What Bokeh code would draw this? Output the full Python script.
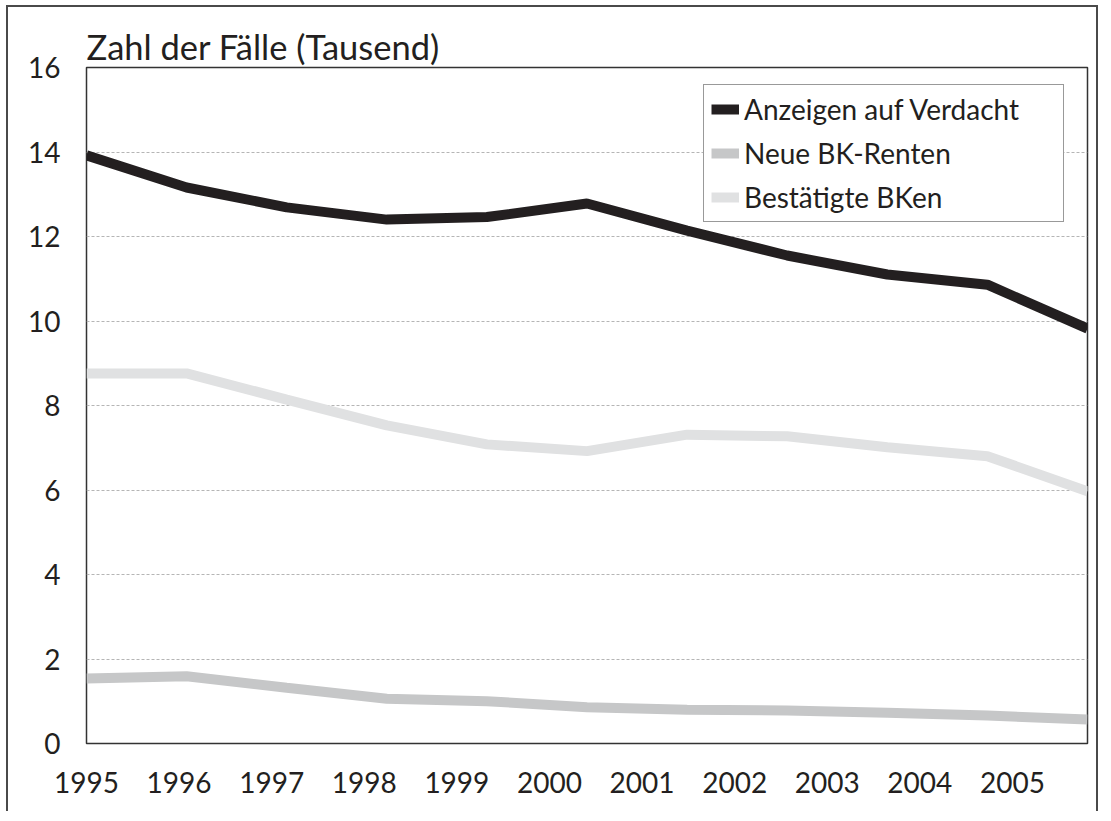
from bokeh.plotting import figure
from bokeh.models import FixedTicker, Range1d, Legend, LegendItem
from bokeh.embed import file_html
from bokeh.resources import INLINE

years = [1995, 1996, 1997, 1998, 1999, 2000, 2001, 2002, 2003, 2004, 2005]
anzeigen = [13.92, 13.16, 12.69, 12.40, 12.46, 12.78, 12.14, 11.55, 11.10, 10.86, 9.82]
renten = [1.54, 1.59, 1.32, 1.06, 1.00, 0.86, 0.80, 0.78, 0.73, 0.66, 0.57]
bestaetigt = [8.76, 8.76, 8.14, 7.53, 7.08, 6.92, 7.31, 7.27, 7.01, 6.80, 5.97]
series_names = ["Anzeigen auf Verdacht", "Neue BK-Renten", "Bestätigte BKen"]
year_labels = [str(y) for y in years]
y_ticks = [0, 2, 4, 6, 8, 10, 12, 14, 16]
title_text = "Zahl der Fälle (Tausend)"

FONT = "Lato"

p = figure(width=1092, height=806, output_backend="svg", toolbar_location=None,
           x_range=Range1d(1995, 2005), y_range=Range1d(0, 16),
           min_border_left=78, min_border_right=13, min_border_top=60, min_border_bottom=70,
           styles={"margin-left": "6px", "margin-top": "5px",
                   "border-left": "2px solid #4a4a4a", "border-top": "2px solid #4a4a4a",
                   "border-right": "2px solid #4a4a4a"})

p.title.text = title_text
p.title.text_font = FONT
p.title.text_font_size = "34.5px"
p.title.text_font_style = "normal"
p.title.text_color = "#231f20"
p.title.align = "left"
p.title.standoff = 2
p.title.offset = 0

p.outline_line_color = "#333333"
p.outline_line_width = 1.5
p.background_fill_color = "white"
p.border_fill_color = "white"

# x axis: labels are spaced slightly tighter than the data years in the original
spacing = 0.925
xt = [1995 + spacing * i for i in range(len(years))]
p.xaxis.ticker = FixedTicker(ticks=xt)
p.xaxis.major_label_overrides = {t: lab for t, lab in zip(xt, year_labels)}
p.yaxis.ticker = FixedTicker(ticks=y_ticks)
for ax in (p.xaxis[0], p.yaxis[0]):
    ax.axis_line_color = None
    ax.major_tick_line_color = None
    ax.minor_tick_line_color = None
    ax.major_label_text_font = FONT
    ax.major_label_text_font_size = "28px"
    ax.major_label_text_color = "#231f20"
p.xaxis.major_label_standoff = 22
p.yaxis.major_label_standoff = 20

p.xgrid.grid_line_color = None
p.ygrid.ticker = FixedTicker(ticks=y_ticks[1:-1])
p.ygrid.grid_line_color = "#b5b5b5"
p.ygrid.grid_line_dash = "3 2"
p.ygrid.grid_line_width = 1

r1 = p.line(years, anzeigen, line_color="#231f20", line_width=10)
r2 = p.line(years, renten, line_color="#c6c7c8", line_width=10)
r3 = p.line(years, bestaetigt, line_color="#e0e1e2", line_width=10)

legend = Legend(items=[LegendItem(label=series_names[0], renderers=[r1]),
                       LegendItem(label=series_names[1], renderers=[r2]),
                       LegendItem(label=series_names[2], renderers=[r3])],
                location=(617, 521))
legend.label_text_font = FONT
legend.label_text_font_size = "28px"
legend.label_text_color = "#231f20"
legend.glyph_width = 28
legend.glyph_height = 20
legend.label_width = 312
legend.label_standoff = 5
legend.padding = 7
legend.spacing = 10
legend.margin = 0
legend.border_line_color = "#333333"
legend.border_line_width = 1.5
legend.background_fill_color = "white"
legend.background_fill_alpha = 1.0
p.add_layout(legend, "center")

open("out.html", "w").write(file_html(p, INLINE))
